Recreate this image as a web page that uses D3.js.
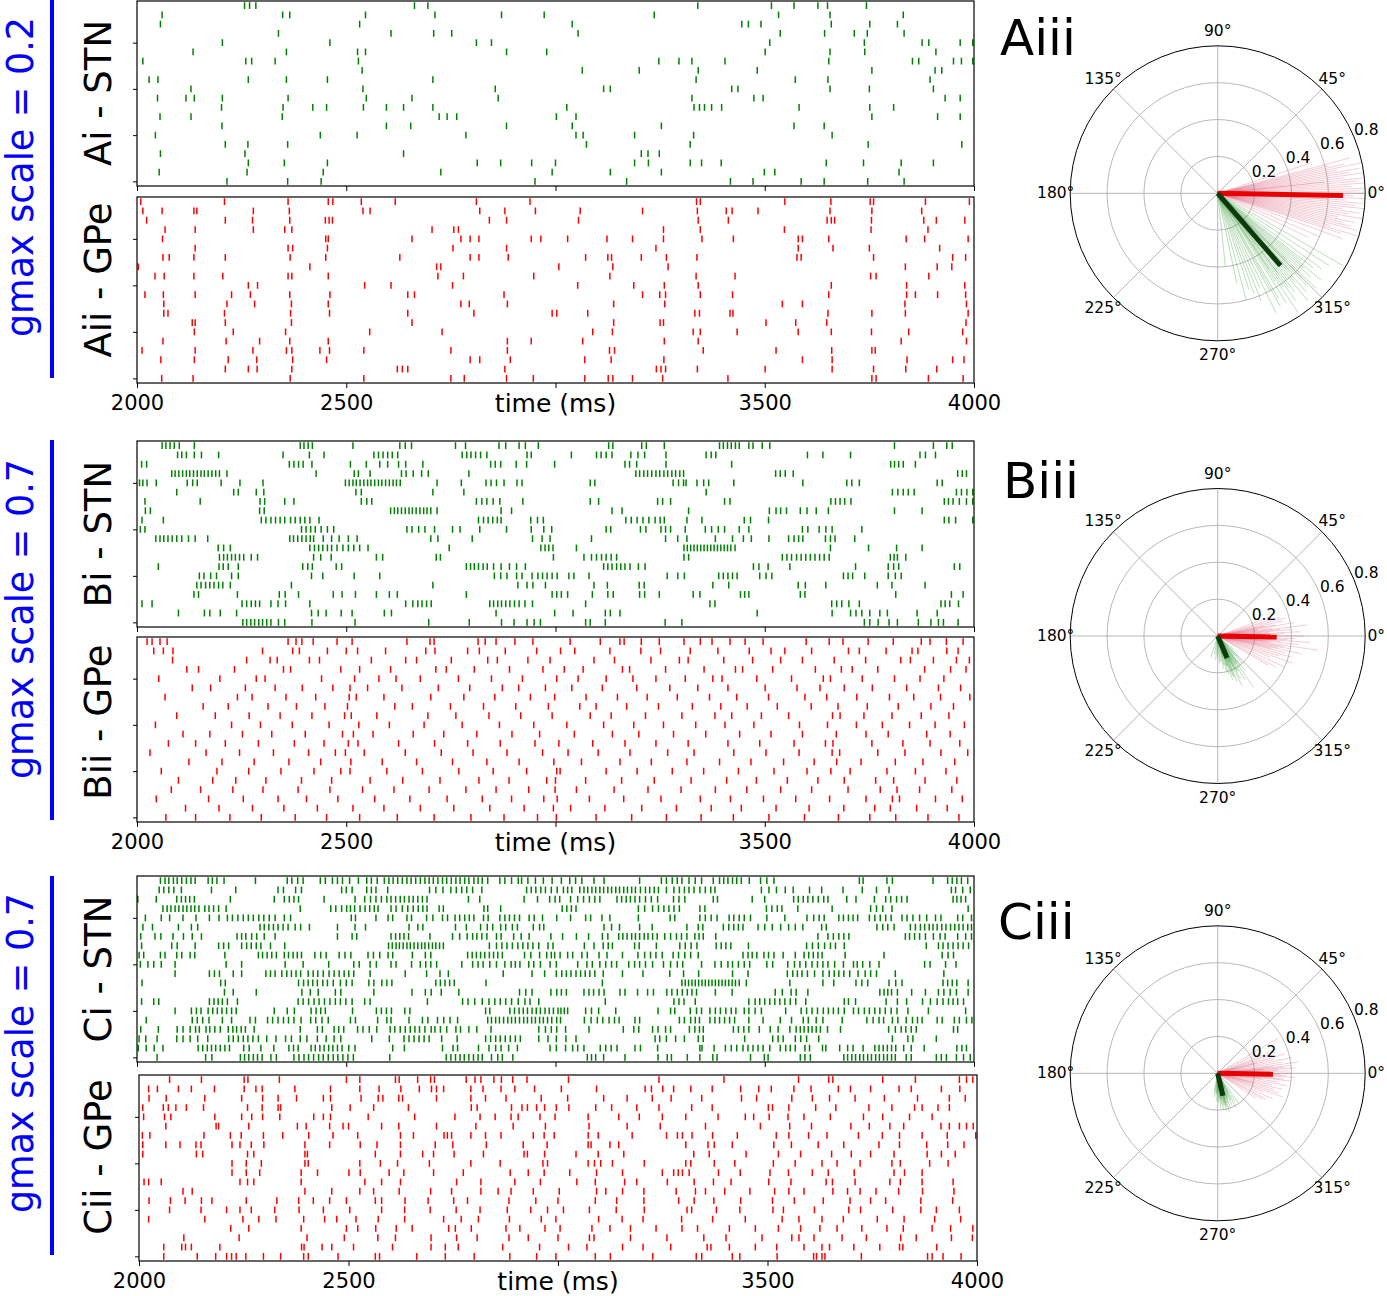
<!DOCTYPE html>
<html><head><meta charset="utf-8">
<script src="https://cdn.jsdelivr.net/npm/d3@7"></script>
<style>body{margin:0;background:#fff}svg{display:block}text{font-family:"DejaVu Sans",sans-serif}</style>
</head><body><svg id="c" width="1387" height="1296"></svg>
<script>
// ---- axis ticks ----
const timeTicks=[2000,2500,3000,3500,4000];
const timeTickLabels=["2000","2500","","3500","4000"];
const rowTicks=[0,5,10,15];
const polarRings=[0.2,0.4,0.6];
const polarRingLabels=["0.2","0.4","0.6","0.8"];
const polarAngles=[0,45,90,135,180,225,270,315];

// ---- spike times (ms); rows listed from top (neuron 19) to bottom (neuron 0) ----
const stnA=[
[2257,2269,2284,2663,2695,3340,3516,3570,3627,3650,3743],
[2060,2348,2365,2546,2712,2871,2973,3236,3533,3656,3831],
[2056,2532,3040,3445,3461,3491,3659,3751,3817],
[2338,2607,2709,2752,3054,3537,3643,3714,3745,3833],
[2204,2461,2811,2847,3512,3738,3876,3892,3967,3997],
[2134,2357,2527,2546,2883,2979,3501,3656,3739,3909],
[2014,2260,2274,2330,2529,3247,3295,3326,3405,3653,3853,3868,3951,3970,3997],
[2538,3064,3200,3341,3482,3756,3907,3923],
[2029,2050,2266,2357,2455,2707,3336,3573,3651,3895],
[2129,2540,2856,3115,3131,3421,3436,3656,3750,3903],
[2049,2117,2137,2204,2361,2548,2657,2863,3326,3474,3496,3931,3967],
[2202,2349,2420,2453,2541,2596,2637,2707,3027,3331,3344,3356,3373,3397,3582,3751,3808],
[2055,2129,2347,2722,2741,2764,3002,3049,3756,3913,3967],
[2203,2596,2654,2883,3040,3253,3570,3642],
[2044,2438,2526,2786,3049,3066,3189,3330,3661],
[2211,2265,2360,3074,3322,3747,3971],
[2056,2258,2637,3205,3221,3248],
[2266,2352,2455,2813,2869,2943,3000,3189,3222,3322,3349,3396,3647,3736,3826,3903],
[2053,2263,2445,2726,2992,3131,3253,3499,3524,3821],
[2215,2360,2440,2951,3170,3418,3472,3587,3642,3746,3833]];
const gpeA=[
[2009,2209,2361,2457,2468,2536,2617,2811,2939,3337,3346,3548,3658,3752,3760,3884,3989],
[2014,2060,2136,2143,2278,2364,2540,2557,2819,2879,2952,3059,3208,3339,3408,3422,3484,3656,3756,3875],
[2023,2211,2276,2365,2450,2459,2467,2842,2883,3055,3341,3413,3649,3659,3667,3755,3880,3910,3978],
[2067,2139,2278,2353,2370,2705,2757,2768,3258,3346,3547,3754,3890],
[2061,2451,2457,2657,2774,2796,2817,2942,2965,3029,3123,3184,3258,3350,3425,3580,3590,3653,3838,3882,3986],
[2139,2361,2372,2455,2755,2883,3240,3580,3663,3750,3918],
[2062,2077,2136,2211,2366,2451,2628,2796,2817,2887,3072,3125,3134,3205,3265,3338,3577,3587,3760,3949,3980],
[2003,2413,2716,2726,3008,3137,3269,3836,3912,3947],
[2043,2065,2136,2205,2361,2370,2457,2719,2780,2948,3130,3336,3429,3753,3766,3892],
[2266,2288,2544,2607,2754,3053,3187,3260,3341,3659,3839,3978],
[2019,2063,2139,2226,2271,2365,2461,2647,2663,2877,3208,3249,3263,3346,3423,3653,3839,3860,3913,3980],
[2064,2215,2281,2369,2457,2774,2794,2885,3139,3261,3542,3590,3835,3982],
[2064,2074,2209,2367,2460,2647,2805,2992,3003,3077,3333,3344,3417,3424,3651,3756,3836,3986],
[2132,2139,2211,2369,2657,3139,3250,3258,3503,3574,3648,3981],
[2137,2230,2355,2556,2729,3089,3136,3329,3346,3434,3580,3659,3755,3844,3973],
[2062,2213,2293,2365,2457,2885,2942,3065,3260,3341,3826,3982],
[2012,2139,2277,2357,2370,2437,2460,2542,2750,2885,3129,3141,3353,3527,3660,3756,3764],
[2057,2137,2218,2286,2372,2453,2796,2819,2892,3070,3133,3259,3590,3661,3840,3949,3976],
[2211,2266,2287,2370,2622,2634,2647,2879,3241,3252,3263,3339,3501,3661,3760,3837,3911],
[2059,2134,2366,2542,2750,2782,2883,2947,3070,3126,3137,3184,3256,3412,3756,3766,3891,3974]];
const stnB=[
[2060,2069,2079,2089,2101,2137,2390,2399,2409,2419,2516,2628,2641,2656,2761,2785,2865,2881,2913,2928,2959,3127,3137,3206,3217,3260,3392,3401,3411,3420,3430,3439,3462,3472,3494,3512,3810,3903,3935,3948],
[2097,2107,2118,2137,2154,2195,2349,2412,2447,2566,2577,2588,2599,2610,2623,2777,2788,2798,2809,2821,2836,2932,2942,3038,3098,3109,3121,3135,3180,3197,3213,3264,3360,3372,3383,3602,3639,3705,3871,3884,3908],
[2011,2023,2364,2375,2386,2397,2418,2510,2548,2580,2599,2625,2642,2683,2845,2856,2869,2906,2931,2998,3166,3177,3194,3264,3421,3801,3810,3820,3831,3860],
[2083,2091,2100,2109,2118,2126,2135,2144,2153,2161,2170,2179,2188,2197,2215,2428,2519,2529,2557,2632,2643,2660,2680,2696,2793,3192,3201,3211,3220,3230,3240,3249,3259,3268,3278,3287,3297,3306,3526,3537,3549,3568,3961,3972,3982],
[2006,2014,2024,2046,2120,2133,2144,2201,2246,2301,2498,2507,2516,2524,2533,2542,2551,2559,2568,2577,2585,2594,2603,2612,2620,2629,2717,2775,2834,2846,2859,2877,2908,2920,3083,3094,3281,3294,3306,3312,3338,3354,3366,3426,3591,3696,3708,3726,3912,3924],
[2095,2231,2242,2285,2303,2523,2536,2707,2781,3360,3805,3818,3831,3843,3857,3958,3970,3983,3997],
[2019,2151,2294,2305,2353,2375,2536,2549,2561,2811,2824,2836,2851,2867,2922,3083,3103,3244,3256,3275,3404,3417,3658,3669,3680,3691,3706,3929,3939,3950,3965,3982,3997],
[2020,2032,2293,2304,2606,2615,2623,2632,2641,2650,2658,2667,2676,2685,2693,2702,2717,2870,2895,3135,3159,3318,3511,3527,3538,3552,3585,3601,3623,3652,3810,3876],
[2012,2063,2297,2308,2320,2331,2342,2353,2367,2378,2390,2401,2413,2435,2816,2828,2839,2850,2861,2870,2941,2957,2971,3168,3181,3195,3209,3223,3238,3250,3260,3314,3350,3451,3466,3509,3929,3940,3956,3997],
[2008,2019,2393,2404,2415,2426,2440,2455,2470,2645,2657,2673,2688,2711,2754,2772,2819,2883,2942,2972,2991,3121,3132,3203,3216,3252,3263,3275,3310,3358,3373,3389,3404,3439,3462,3590,3603,3630,3646,3661,3732],
[2045,2055,2064,2074,2084,2095,2107,2123,2139,2169,2365,2374,2384,2394,2404,2414,2422,2445,2465,2483,2505,2526,2702,2719,2801,2945,2968,2987,3086,3263,3292,3314,3382,3423,3449,3468,3510,3557,3570,3581,3591,3645,3657,3668,3715],
[2194,2207,2223,2413,2424,2434,2444,2455,2465,2478,2492,2505,2518,2532,2552,2746,2965,2975,2984,2994,3050,3307,3315,3323,3331,3339,3347,3355,3363,3371,3379,3387,3395,3403,3411,3419,3429,3657,3748,3815,3876],
[2197,2207,2216,2226,2235,2245,2255,2273,2288,2422,2439,2464,2572,2587,2715,2725,2995,3068,3086,3098,3110,3121,3133,3146,3307,3318,3542,3553,3564,3576,3587,3598,3609,3620,3631,3642,3654,3800,3809,3817,3837],
[2051,2196,2206,2218,2242,2396,2408,2419,2476,2489,2787,2797,2806,2816,2827,2837,2852,2870,2890,2907,2928,3115,3125,3135,3146,3156,3166,3178,3198,3214,3473,3486,3508,3560,3717,3795,3808,3820,3953,3966],
[2149,2160,2176,2190,2226,2242,2417,2444,2519,2580,2854,2869,2884,2907,2920,2944,2958,2969,2980,2992,3004,3032,3044,3080,3267,3292,3308,3390,3401,3412,3423,3434,3488,3503,3517,3688,3699,3710,3739,3795,3812,3826],
[2143,2153,2164,2174,2184,2195,2205,2223,2369,2707,2910,2932,2946,2976,3092,3124,3200,3212,3376,3414,3580,3597,3646,3769,3804,3883],
[2136,2147,2240,2340,2354,2386,2469,2490,2522,2572,2603,2622,2787,2992,3003,3014,3029,3088,3125,3138,3201,3213,3248,3329,3345,3442,3452,3462,3585,3596,3813,3946,3974],
[2012,2036,2251,2262,2273,2283,2293,2320,2337,2355,2413,2642,2659,2671,2681,2692,2703,2843,2852,2862,2871,2881,2891,2902,2913,2927,2945,3072,3369,3381,3660,3672,3684,3701,3726,3921,3931,3942,3963],
[2099,2161,2174,2199,2238,2417,2433,2452,2488,2514,2591,2608,2858,2998,3042,3119,3131,3154,3482,3661,3705,3718,3732,3751,3775,3793,3864,3912],
[2253,2262,2272,2281,2291,2300,2310,2320,2338,2353,2418,2521,2697,2794,2871,2901,2932,2949,2964,3072,3083,3119,3262,3302,3738,3751,3771,3797,3817,3867,3897,3915,3927,3962]];
const gpeB=[
[2024,2036,2055,2072,2361,2380,2394,2421,2478,2514,2645,2700,2710,2815,2832,2858,2903,2946,3035,3107,3154,3164,3205,3248,3307,3346,3374,3417,3453,3496,3599,3654,3687,3747,3807,3874,3895,3934,3974],
[2040,2063,2086,2300,2372,2388,2455,2500,2527,2594,2690,2712,2790,2818,2880,2955,3012,3046,3130,3204,3251,3322,3388,3463,3515,3548,3612,3700,3726,3790,3852,3866,3935,3962],
[2085,2262,2318,2335,2412,2436,2560,2642,2668,2751,2838,2861,2934,2987,3092,3141,3228,3296,3317,3402,3471,3538,3590,3666,3741,3825,3848,3903,3958,3989],
[2119,2147,2233,2350,2367,2487,2532,2606,2714,2739,2806,2890,2970,3021,3066,3160,3177,3263,3355,3430,3447,3519,3621,3683,3709,3770,3882,3944,3981],
[2052,2198,2285,2306,2441,2520,2578,2619,2677,2768,2847,2921,3003,3054,3121,3185,3240,3310,3376,3398,3481,3564,3640,3657,3733,3810,3871,3928],
[2132,2176,2259,2330,2395,2468,2509,2551,2633,2720,2795,2873,2912,2976,3039,3112,3194,3273,3340,3412,3501,3577,3632,3690,3757,3839,3915,3968],
[2067,2240,2275,2356,2427,2507,2524,2590,2702,2781,2855,2940,2998,3073,3148,3219,3291,3368,3433,3509,3596,3648,3720,3798,3856,3920,3990],
[2158,2218,2313,2381,2449,2503,2616,2658,2749,2828,2905,2983,3058,3097,3170,3246,3327,3395,3458,3530,3611,3675,3745,3819,3897,3951],
[2095,2187,2268,2342,2418,2496,2512,2573,2695,2762,2841,2917,2992,3083,3133,3215,3302,3381,3421,3492,3557,3662,3680,3737,3804,3874,3940],
[2044,2226,2295,2371,2459,2530,2603,2686,2777,2866,2948,3027,3115,3187,3258,3335,3405,3474,3583,3650,3719,3781,3846,3907,3977],
[2110,2174,2252,2322,2402,2491,2517,2564,2660,2733,2812,2896,2962,3045,3136,3199,3282,3359,3440,3515,3590,3671,3742,3795,3887,3943],
[2075,2140,2211,2290,2376,2447,2505,2528,2625,2711,2790,2868,2951,3008,3089,3166,3240,3317,3412,3488,3570,3645,3663,3756,3830,3895,3966],
[2031,2165,2245,2326,2410,2474,2498,2543,2641,2727,2803,2884,2969,3030,3102,3178,3268,3331,3426,3503,3582,3661,3679,3770,3835,3921,3985],
[2124,2203,2280,2363,2439,2511,2586,2668,2754,2836,2913,2996,3062,3154,3229,3314,3392,3467,3545,3618,3672,3730,3812,3878,3954],
[2058,2191,2267,2344,2423,2487,2509,2597,2682,2769,2851,2931,3003,3011,3121,3195,3279,3354,3437,3522,3601,3658,3704,3792,3860,3933],
[2099,2181,2236,2308,2393,2465,2557,2635,2724,2817,2889,2979,3000,3072,3158,3236,3324,3409,3480,3554,3627,3690,3765,3808,3883,3959],
[2082,2152,2229,2301,2385,2461,2539,2614,2698,2786,2858,2936,2999,3050,3140,3221,3300,3382,3457,3538,3612,3699,3776,3816,3870,3947],
[2046,2171,2254,2337,2405,2480,2568,2652,2741,2825,2895,2972,3004,3081,3163,3252,3346,3418,3497,3574,3655,3742,3805,3822,3908,3972],
[2116,2196,2276,2351,2431,2516,2590,2677,2757,2843,2925,2995,3036,3118,3206,3289,3372,3444,3527,3606,3689,3763,3800,3863,3936],
[2069,2140,2222,2297,2378,2453,2532,2622,2710,2798,2877,2957,3002,3097,3182,3265,3348,3425,3510,3595,3676,3751,3813,3890,3964]];
const stnC=[
[2056,2067,2076,2087,2096,2107,2118,2129,2139,2170,2180,2191,2208,2283,2359,2370,2384,2397,2438,2450,2467,2479,2491,2508,2529,2549,2560,2574,2591,2602,2612,2623,2634,2645,2655,2666,2677,2688,2698,2708,2719,2730,2740,2751,2762,2772,2783,2793,2805,2815,2825,2838,2867,2879,2895,2911,2919,2934,2952,2971,2992,3014,3034,3048,3063,3092,3116,3201,3253,3265,3279,3291,3302,3319,3334,3349,3377,3392,3402,3412,3423,3433,3444,3463,3490,3505,3522,3726,3735,3792,3805,3902,3937,3948,3959,3970,3985],
[2053,2064,2076,2088,2106,2178,2236,2337,2350,2379,2393,2489,2500,2514,2549,2560,2571,2599,2699,2714,2731,2750,2763,2776,2788,2802,2824,2931,2942,2953,2965,2976,2990,3004,3019,3029,3039,3058,3068,3077,3087,3096,3106,3115,3125,3134,3144,3153,3163,3172,3182,3191,3203,3215,3225,3236,3246,3265,3283,3296,3308,3319,3331,3345,3358,3371,3381,3492,3510,3528,3549,3568,3607,3636,3687,3733,3767,3797,3946,3956,3973,3991],
[2002,2046,2095,2106,2116,2126,2137,2223,2328,2352,2364,2375,2386,2447,2521,2544,2558,2571,2584,2597,2607,2618,2629,2639,2650,2660,2671,2682,2693,2792,2819,2925,2957,2986,2999,3010,3036,3053,3067,3081,3094,3106,3147,3158,3169,3179,3190,3201,3215,3229,3244,3282,3295,3309,3377,3387,3470,3500,3569,3580,3592,3603,3615,3628,3641,3651,3696,3718,3762,3789,3801,3815,3827,3840,3950,3959,3969,3980],
[2062,2072,2081,2091,2100,2110,2119,2129,2138,2148,2162,2172,2183,2195,2213,2390,2463,2475,2489,2501,2510,2520,2533,2545,2556,2567,2576,2607,2619,2634,2647,2660,2672,2683,2693,2722,2732,2829,2838,2869,3016,3027,3038,3049,3198,3213,3232,3246,3259,3271,3283,3296,3345,3357,3504,3517,3530,3541,3579,3661,3753,3767,3782,3804,3986],
[2020,2058,2078,2110,2141,2173,2196,2216,2228,2241,2254,2266,2278,2291,2303,2316,2330,2352,2367,2512,2522,2571,2600,2611,2645,2656,2692,2707,2730,2742,2760,2771,2783,2794,2805,2828,2839,2867,2879,2890,2902,2914,2937,2949,2969,3003,3036,3072,3084,3111,3130,3198,3274,3285,3345,3358,3372,3386,3415,3426,3439,3451,3466,3505,3548,3601,3617,3630,3642,3677,3688,3700,3711,3722,3750,3763,3776,3789,3802,3828,3840,3854,3870,3887,3908,3921,3961,3973,3994],
[2014,2037,2099,2130,2145,2294,2304,2315,2326,2337,2349,2361,2378,2391,2412,2479,2521,2546,2650,2671,2683,2761,2787,2821,2837,2850,2869,2881,2897,2909,2947,2962,2972,3116,3134,3153,3201,3231,3314,3341,3352,3401,3414,3426,3437,3448,3484,3500,3518,3538,3557,3573,3591,3636,3647,3768,3782,3794,3809,3848,3860,3872,3882,3893,3902,3912,3923,3933,3944,3954,3964,3974,3985,3994],
[2009,2043,2057,2086,2111,2132,2154,2239,2250,2260,2274,2286,2304,2330,2479,2514,2525,2607,2618,2628,2638,2649,2700,2754,2771,2789,2802,2812,2824,2836,2859,2870,2900,2918,2937,2989,3017,3050,3079,3112,3125,3151,3161,3171,3182,3191,3201,3212,3221,3232,3243,3261,3275,3289,3301,3314,3333,3343,3353,3383,3627,3651,3664,3677,3689,3701,3836,3846,3858,3870,3884,3903,3919,3931,3961,3980,3994],
[2011,2083,2096,2139,2195,2207,2219,2250,2262,2273,2285,2296,2319,2353,2601,2610,2619,2627,2636,2645,2653,2662,2671,2680,2688,2697,2706,2714,2723,2732,2842,2859,2872,2884,2897,2910,2922,2934,2946,2960,2982,2994,3069,3092,3114,3126,3136,3189,3200,3241,3297,3310,3324,3338,3384,3396,3407,3419,3461,3600,3614,3628,3643,3657,3669,3690,3886,3915,3926,3938,3950,3962,3974,3987],
[2005,2016,2056,2067,2095,2107,2127,2138,2210,2290,2300,2311,2322,2333,2352,2362,2373,2383,2393,2425,2439,2452,2483,2497,2511,2552,2565,2580,2600,2611,2658,2689,2702,2790,2801,2811,2821,2831,2842,2852,2862,2873,2926,2941,2962,2979,2990,2998,3011,3029,3041,3063,3076,3104,3123,3160,3197,3213,3227,3240,3255,3281,3294,3309,3323,3341,3448,3460,3470,3481,3498,3509,3522,3544,3573,3594,3605,3616,3627,3637,3692,3785,3924,3938,3951],
[2008,2026,2040,2058,2091,2213,2250,2354,2397,2458,2518,2531,2557,2572,2607,2619,2656,2677,2690,2702,2716,2776,2802,2815,2827,2843,2859,2879,2894,2904,2915,2936,2948,2964,2987,3002,3053,3075,3088,3106,3120,3134,3146,3175,3189,3201,3215,3232,3258,3275,3291,3304,3349,3381,3396,3412,3423,3437,3451,3464,3505,3519,3555,3571,3584,3598,3613,3626,3639,3651,3667,3688,3712,3721,3734,3751,3773,3882,3895,3932,3957],
[2091,2173,2185,2197,2230,2250,2308,2319,2330,2346,2358,2369,2380,2391,2409,2421,2432,2445,2459,2471,2483,2495,2506,2518,2557,2641,2692,2724,2744,2875,2944,2974,3002,3015,3026,3037,3049,3060,3071,3082,3094,3114,3160,3209,3273,3306,3342,3423,3460,3554,3567,3578,3589,3602,3619,3639,3654,3666,3677,3689,3703,3723,3740,3753,3767,3812,3928],
[2012,2200,2211,2386,2398,2409,2420,2431,2444,2455,2469,2486,2500,2514,2554,2566,2585,2597,2609,2714,2725,2736,2747,2758,2834,3112,3302,3310,3318,3326,3334,3342,3350,3358,3366,3374,3382,3390,3398,3406,3414,3422,3430,3439,3456,3560,3639,3665,3718,3732,3746,3797,3813,3828,3926,3937,3948,3959,3986],
[2209,2230,2285,2394,2414,2433,2474,2487,2566,2657,2689,2703,2727,2769,2914,2929,2944,2989,3003,3014,3026,3068,3080,3091,3104,3116,3154,3166,3196,3220,3234,3266,3278,3291,3303,3315,3326,3337,3382,3422,3525,3542,3563,3575,3603,3775,3785,3794,3803,3817,3851,3884,3915,3928,3943,3958,3986],
[2011,2040,2052,2173,2184,2194,2204,2216,2240,2385,2397,2410,2423,2435,2448,2461,2474,2486,2499,2514,2544,2557,2694,2778,2791,2807,2825,2841,2855,2868,2881,2895,2911,2927,2939,2960,3119,3283,3295,3307,3334,3462,3477,3488,3500,3512,3524,3536,3548,3561,3574,3598,3690,3700,3717,3790,3817,3839,3877,3896,3912,3926,3939,3950,3961,3975],
[2091,2130,2142,2153,2170,2181,2192,2203,2214,2226,2237,2328,2359,2376,2416,2428,2439,2450,2515,2572,2584,2596,2608,2640,2652,2833,2843,2891,2902,2913,2923,2933,2944,2954,2964,2975,2985,2995,3006,3013,3021,3029,3072,3086,3103,3144,3245,3275,3285,3322,3337,3349,3369,3382,3394,3407,3420,3431,3451,3462,3477,3492,3550,3587,3600,3613,3626,3640,3652,3664,3676,3690,3712,3724,3738,3750,3763,3775,3788,3802,3816,3842,3891,3980],
[2022,2132,2144,2157,2172,2204,2226,2270,2283,2312,2324,2337,2350,2362,2375,2392,2415,2427,2442,2457,2510,2522,2575,2597,2607,2650,2682,2695,2718,2733,2748,2766,2838,2847,2857,2866,2876,2886,2895,2904,2914,2924,2933,2943,2952,2962,2971,2981,2991,3003,3012,3069,3085,3100,3113,3128,3141,3152,3190,3201,3296,3308,3323,3334,3344,3369,3381,3392,3404,3416,3428,3462,3496,3537,3564,3592,3604,3623,3639,3685,3744,3759,3773,3784,3805,3818,3838,3853,3865,3876,3912,3924,3953,3965,3982,3995],
[2009,2051,2096,2110,2127,2140,2149,2165,2174,2186,2199,2218,2229,2238,2249,2259,2280,2390,2431,2443,2471,2482,2494,2527,2540,2555,2573,2605,2616,2629,2641,2653,2664,2675,2688,2703,2712,2725,2740,2762,2773,2793,2812,2846,2960,2976,2990,3003,3024,3080,3162,3187,3199,3232,3245,3263,3275,3320,3333,3344,3353,3425,3437,3450,3462,3487,3513,3532,3560,3575,3585,3594,3604,3613,3623,3633,3650,3681,3796,3812,3826,3837,3850,3862,3951,3961],
[2005,2021,2048,2095,2110,2127,2145,2169,2219,2230,2242,2254,2265,2277,2290,2310,2332,2355,2369,2390,2406,2431,2452,2471,2487,2561,2603,2638,2650,2662,2674,2686,2698,2728,2765,2833,2845,2857,2868,2880,2892,2904,2916,2960,2982,3002,3025,3049,3238,3249,3265,3287,3308,3341,3353,3452,3519,3532,3544,3573,3586,3600,3629,3805,3842,3854,3910],
[2003,2022,2041,2062,2146,2157,2168,2178,2188,2199,2210,2221,2255,2268,2296,2327,2363,2374,2385,2416,2426,2437,2447,2458,2468,2479,2490,2506,2521,2611,2639,2730,2755,2766,2816,2841,2857,2870,2888,2909,2987,3002,3024,3041,3053,3068,3107,3120,3133,3147,3190,3203,3244,3345,3350,3379,3406,3420,3433,3448,3460,3472,3484,3496,3512,3537,3550,3561,3573,3596,3607,3638,3646,3679,3698,3711,3735,3763,3773,3783,3793,3803,3813,3832,3850,3881,3959,3971,3982],
[2048,2164,2179,2247,2257,2267,2278,2288,2299,2320,2333,2375,2387,2399,2410,2422,2434,2445,2457,2469,2480,2492,2504,2517,2604,2739,2750,2761,2772,2782,2793,2804,2815,2825,2847,2862,2873,2898,3076,3086,3096,3115,3166,3245,3267,3277,3315,3345,3376,3386,3466,3499,3508,3585,3596,3609,3689,3698,3708,3717,3727,3736,3746,3755,3765,3774,3784,3793,3803,3812,3838,3850,3910,3922,3934,3958,3975,3991]];
const gpeC=[
[2073,2149,2251,2260,2335,2495,2527,2612,2621,2665,2696,2705,2781,2802,2816,2847,2865,2892,2926,3025,3241,3396,3574,3646,3656,3775,3853,3958,3975,3990],
[2023,2044,2094,2125,2180,2251,2279,2294,2372,2457,2527,2573,2625,2669,2698,2710,2727,2792,2821,2864,2897,2944,3008,3092,3208,3223,3250,3276,3317,3368,3436,3479,3509,3563,3604,3669,3698,3746,3814,3843,3915,3959],
[2024,2065,2157,2245,2295,2332,2376,2440,2457,2530,2571,2582,2620,2629,2710,2792,2827,2876,2960,3023,3109,3165,3225,3270,3343,3438,3474,3558,3607,3648,3709,3779,3858,3934,3972],
[2009,2058,2070,2088,2113,2154,2259,2294,2332,2338,2460,2504,2560,2643,2793,2807,2889,2914,2927,2949,2968,2996,3026,3090,3128,3188,3241,3319,3368,3502,3512,3551,3615,3663,3742,3797,3851,3869,3907,3934],
[2011,2061,2076,2181,2245,2269,2295,2336,2417,2440,2457,2547,2658,2754,2814,2850,2888,2905,2957,2993,3072,3145,3194,3249,3305,3382,3447,3467,3504,3549,3587,3650,3729,3775,3839,3893],
[2064,2184,2190,2262,2378,2399,2455,2487,2500,2579,2620,2710,2804,2893,2970,3074,3165,3244,3352,3483,3553,3605,3699,3743,3792,3825,3914,3934,3958,3975,3991],
[2008,2026,2155,2218,2244,2297,2343,2405,2463,2522,2624,2655,2728,2736,2746,2792,2827,2864,2941,2967,2991,3072,3096,3177,3259,3285,3297,3320,3369,3428,3521,3551,3598,3642,3717,3774,3815,3869,3929,3997],
[2009,2064,2098,2136,2148,2222,2241,2268,2298,2396,2455,2528,2568,2624,2707,2749,2829,2917,2974,3072,3079,3124,3145,3305,3358,3373,3416,3515,3557,3621,3682,3766,3815,3880,3930,3969],
[2009,2137,2152,2259,2274,2396,2402,2564,2624,2677,2703,2752,2822,2919,2927,2968,3043,3096,3157,3324,3361,3449,3526,3579,3653,3700,3746,3802,3881,3915,3948],
[2222,2256,2292,2396,2404,2527,2576,2617,2693,2792,2862,2964,2975,3072,3087,3102,3130,3206,3305,3317,3373,3422,3514,3566,3630,3666,3721,3797,3817,3887,3931],
[2222,2256,2288,2387,2426,2501,2528,2597,2632,2703,2774,2886,2929,2967,3028,3092,3154,3249,3276,3287,3297,3313,3383,3435,3506,3550,3607,3645,3707,3802,3827,3869],
[2012,2023,2053,2241,2259,2274,2387,2539,2579,2624,2758,2816,2897,2958,3045,3089,3159,3188,3261,3325,3371,3413,3503,3556,3640,3655,3709,3792,3817,3869,3943],
[2105,2127,2396,2460,2527,2560,2621,2696,2746,2816,2857,2888,2941,3003,3092,3114,3154,3205,3282,3328,3352,3398,3458,3517,3551,3587,3656,3691,3721,3759,3813,3870,3945],
[2024,2075,2110,2149,2174,2256,2329,2381,2416,2455,2495,2564,2579,2635,2690,2751,2784,2883,2947,3000,3089,3140,3205,3288,3325,3372,3436,3512,3564,3633,3697,3746,3782,3866,3942],
[2073,2148,2209,2241,2268,2324,2382,2440,2503,2579,2634,2695,2757,2814,2879,2935,2975,3013,3075,3139,3206,3308,3319,3378,3434,3513,3538,3612,3694,3722,3799,3866,3903,3958],
[2023,2157,2248,2286,2327,2393,2443,2472,2518,2571,2634,2727,2769,2810,2884,2960,2995,3097,3153,3203,3295,3369,3447,3535,3575,3630,3681,3762,3826,3899,3961],
[2219,2262,2387,2495,2522,2565,2614,2652,2739,2755,2793,2876,2909,2969,3005,3081,3124,3173,3234,3296,3333,3409,3471,3526,3579,3625,3666,3725,3785,3824,3893,3937,3990],
[2107,2239,2401,2490,2570,2612,2697,2758,2807,2883,2929,3000,3075,3086,3173,3260,3348,3401,3487,3558,3575,3611,3678,3736,3818,3855,3939,3989],
[2059,2102,2111,2125,2193,2388,2394,2437,2460,2512,2605,2697,2731,2762,2868,2956,3025,3069,3154,3203,3269,3356,3365,3409,3471,3522,3587,3630,3648,3706,3768,3815,3823,3904],
[2059,2139,2183,2209,2221,2232,2255,2297,2338,2393,2404,2475,2564,2574,2663,2731,2800,2885,2949,2995,3089,3125,3226,3330,3343,3416,3434,3523,3610,3617,3630,3637,3724,3882,3893,3919,3962]];

// ---- phase plots: per-neuron angle (deg) and vector length ----
const gpeAngA=[18,15,13,12,11,10,9,8,7,6,5,4,3,2,1,0,-1,-2,-3,-4,-5,-6,-7,-8,-9,-10,-11,-12,-13,-14,-15,-16,-17,-18,-20,-23,-26,14,6,-3];
const gpeLenA=[0.52,0.74,0.7,0.8,0.66,0.78,0.72,0.8,0.69,0.8,0.76,0.8,0.73,0.8,0.77,0.8,0.74,0.8,0.7,0.79,0.75,0.8,0.68,0.78,0.72,0.8,0.66,0.76,0.7,0.74,0.78,0.64,0.8,0.7,0.72,0.6,0.55,0.62,0.58,0.6];
const stnAngA=[-30,-33,-36,-38,-40,-41,-42,-43,-44,-45,-46,-47,-48,-49,-50,-51,-52,-53,-54,-55,-56,-57,-58,-60,-62,-64,-66,-68,-70,-72,-75,-78,-84,-44,-47,-50,-53,-39,-61,-56];
const stnLenA=[0.78,0.72,0.7,0.66,0.73,0.62,0.68,0.6,0.74,0.65,0.7,0.58,0.72,0.64,0.76,0.6,0.68,0.55,0.72,0.62,0.78,0.57,0.7,0.66,0.6,0.72,0.56,0.63,0.58,0.55,0.6,0.5,0.4,0.52,0.6,0.48,0.64,0.58,0.7,0.5];
const gpeAngB=[20,17,15,13,11,10,8,7,6,5,4,3,2,1,0,-1,-2,-3,-4,-5,-6,-7,-8,-9,-10,-11,-12,-14,-16,-18,-20,-22,-25,-28,-30,12,3,-6,-13,9];
const gpeLenB=[0.3,0.35,0.38,0.36,0.32,0.42,0.3,0.49,0.34,0.4,0.28,0.45,0.36,0.33,0.47,0.3,0.42,0.38,0.5,0.34,0.44,0.29,0.55,0.36,0.4,0.33,0.46,0.38,0.42,0.35,0.43,0.3,0.4,0.36,0.32,0.26,0.24,0.27,0.3,0.22];
const stnAngB=[-40,-45,-48,-50,-52,-54,-55,-56,-58,-60,-61,-62,-63,-64,-65,-66,-67,-68,-69,-70,-71,-72,-74,-76,-78,-80,-83,-86,-90,-95,-100,-108,-58,-63,-68,-73,-53,-66,-77,-60];
const stnLenB=[0.12,0.16,0.2,0.14,0.24,0.18,0.34,0.2,0.28,0.15,0.22,0.26,0.18,0.3,0.16,0.21,0.27,0.14,0.23,0.19,0.25,0.17,0.22,0.2,0.16,0.18,0.14,0.15,0.12,0.13,0.1,0.12,0.18,0.2,0.24,0.17,0.2,0.1,0.12,0.22];
const gpeAngC=[30,26,22,20,18,16,14,12,10,8,7,6,5,4,3,2,1,0,-1,-2,-3,-4,-5,-6,-8,-10,-12,-14,-16,-18,-20,-22,-25,-28,-30,-33,15,5,-7,-15];
const gpeLenC=[0.38,0.26,0.3,0.34,0.28,0.38,0.32,0.41,0.35,0.44,0.3,0.4,0.36,0.42,0.33,0.39,0.3,0.4,0.34,0.37,0.42,0.31,0.36,0.4,0.33,0.38,0.3,0.36,0.32,0.35,0.38,0.27,0.33,0.3,0.28,0.25,0.22,0.25,0.24,0.2];
const stnAngC=[-55,-59,-62,-64,-66,-68,-70,-71,-72,-73,-74,-75,-76,-77,-78,-79,-80,-81,-82,-83,-84,-85,-86,-88,-90,-92,-95,-98,-101,-66,-72,-78,-84,-69,-75,-81,-87,-62,-93,-76];
const stnLenC=[0.2,0.18,0.21,0.16,0.19,0.14,0.2,0.17,0.12,0.22,0.15,0.19,0.13,0.21,0.16,0.18,0.11,0.2,0.15,0.17,0.13,0.19,0.14,0.16,0.12,0.15,0.11,0.13,0.1,0.09,0.1,0.12,0.08,0.15,0.17,0.14,0.1,0.12,0.11,0.18];
const meanGpeAng=[-1,-1,-1], meanGpeLen=[0.68,0.32,0.30];
const meanStnAng=[-49,-67,-77], meanStnLen=[0.52,0.13,0.125];

const groupLabels=["gmax scale = 0.2","gmax scale = 0.7","gmax scale = 0.7"];
const polarTitles=["Aiii","Biii","Ciii"];

// ---- drawing ----
const svg=d3.select("#c");
const FONT='"DejaVu Sans",sans-serif';
const panels=[
 {name:"Ai - STN",rows:stnA,color:"#008000",x0:137,x1:974,y0:1,y1:186,lab:false,ly:93},
 {name:"Aii - GPe",rows:gpeA,color:"#ff0000",x0:137,x1:974,y0:197,y1:383,lab:true,ly:280},
 {name:"Bi - STN",rows:stnB,color:"#008000",x0:137,x1:974,y0:441,y1:627,lab:false,ly:534},
 {name:"Bii - GPe",rows:gpeB,color:"#ff0000",x0:137,x1:974,y0:637,y1:822,lab:true,ly:722},
 {name:"Ci - STN",rows:stnC,color:"#008000",x0:137,x1:974,y0:876,y1:1062,lab:false,ly:969},
 {name:"Cii - GPe",rows:gpeC,color:"#ff0000",x0:139,x1:977,y0:1075,y1:1261,lab:true,ly:1157}
];
panels.forEach(p=>{
  const x=d3.scaleLinear().domain([2000,4000]).range([p.x0,p.x1]);
  const y=d3.scaleLinear().domain([-0.5,19.5]).range([p.y1,p.y0]);
  const g=svg.append("g");
  p.rows.forEach((times,i)=>{
    const row=19-i;
    g.selectAll(null).data(times).join("line")
      .attr("x1",d=>x(d)).attr("x2",d=>x(d))
      .attr("y1",y(row)-3.4).attr("y2",y(row)+3.4)
      .attr("stroke",p.color).attr("stroke-width",1.5);
  });
  svg.append("rect").attr("x",p.x0).attr("y",p.y0).attr("width",p.x1-p.x0).attr("height",p.y1-p.y0)
    .attr("fill","none").attr("stroke","#000").attr("stroke-width",1.2);
  const gx=svg.append("g").attr("transform",`translate(0,${p.y1})`)
    .call(d3.axisBottom(x).tickValues(timeTicks).tickSize(5).tickPadding(7)
      .tickFormat((d,i)=>p.lab?timeTickLabels[i]:""));
  gx.select(".domain").remove();
  gx.attr("font-size",21).attr("font-family",FONT);
  const gy=svg.append("g").attr("transform",`translate(${p.x0},0)`)
    .call(d3.axisLeft(y).tickValues(rowTicks).tickSize(4).tickFormat(""));
  gy.select(".domain").remove();
  if(p.lab){
    svg.append("text").attr("x",x(3000)).attr("y",p.y1+29).attr("text-anchor","middle")
      .attr("font-size",25).attr("font-family",FONT).text("time (ms)");
  }
  svg.append("text").attr("transform",`translate(111,${p.ly}) rotate(-90)`)
    .attr("text-anchor","middle").attr("font-size",37).attr("font-family",FONT).text(p.name);
});
// group labels
const grp=[{y0:0,y1:378,ty:177},{y0:440,y1:820,ty:619},{y0:876,y1:1255,ty:1053}];
grp.forEach((d,i)=>{
  svg.append("line").attr("x1",52).attr("x2",52).attr("y1",d.y0).attr("y2",d.y1)
    .attr("stroke","#0000ff").attr("stroke-width",4);
  svg.append("text").attr("transform",`translate(33,${d.ty}) rotate(-90)`)
    .attr("text-anchor","middle").attr("fill","#0000ff").attr("font-size",36.5)
    .attr("font-family",FONT).text(groupLabels[i]);
});
// polar plots
const polars=[
 {cx:1217.7,cy:193.3,tx:1000,ty:55,gA:gpeAngA,gL:gpeLenA,sA:stnAngA,sL:stnLenA},
 {cx:1217.7,cy:636,tx:1003,ty:498,gA:gpeAngB,gL:gpeLenB,sA:stnAngB,sL:stnLenB},
 {cx:1217.7,cy:1073.3,tx:998,ty:939,gA:gpeAngC,gL:gpeLenC,sA:stnAngC,sL:stnLenC}
];
const rS=d3.scaleLinear().domain([0,0.8]).range([0,147.5]);
const rad=a=>a*Math.PI/180;
polars.forEach((p,k)=>{
  const g=svg.append("g").attr("transform",`translate(${p.cx},${p.cy})`);
  g.selectAll(null).data(polarRings).join("circle").attr("r",d=>rS(d))
    .attr("fill","none").attr("stroke","#b0b0b0").attr("stroke-width",0.9);
  g.selectAll(null).data(polarAngles).join("line")
    .attr("x1",0).attr("y1",0).attr("x2",d=>rS(0.8)*Math.cos(rad(d))).attr("y2",d=>-rS(0.8)*Math.sin(rad(d)))
    .attr("stroke","#b0b0b0").attr("stroke-width",0.9);
  g.selectAll(null).data(polarRingLabels).join("text")
    .attr("x",d=>rS(+d)*Math.cos(rad(22.5))).attr("y",d=>-rS(+d)*Math.sin(rad(22.5))-2)
    .attr("font-size",15.5).attr("font-family",FONT).text(d=>d);
  g.append("g").selectAll("line").data(p.gA).join("line")
    .attr("x1",0).attr("y1",0)
    .attr("x2",(d,i)=>rS(p.gL[i])*Math.cos(rad(d))).attr("y2",(d,i)=>-rS(p.gL[i])*Math.sin(rad(d)))
    .attr("stroke","#d0204a").attr("stroke-opacity",0.25).attr("stroke-width",0.9);
  g.append("g").selectAll("line").data(p.sA).join("line")
    .attr("x1",0).attr("y1",0)
    .attr("x2",(d,i)=>rS(p.sL[i])*Math.cos(rad(d))).attr("y2",(d,i)=>-rS(p.sL[i])*Math.sin(rad(d)))
    .attr("stroke","#1a8a1a").attr("stroke-opacity",0.33).attr("stroke-width",0.9);
  g.append("line").attr("x1",0).attr("y1",0)
    .attr("x2",rS(meanGpeLen[k])*Math.cos(rad(meanGpeAng[k]))).attr("y2",-rS(meanGpeLen[k])*Math.sin(rad(meanGpeAng[k])))
    .attr("stroke","#e80000").attr("stroke-width",5);
  g.append("line").attr("x1",0).attr("y1",0)
    .attr("x2",rS(meanStnLen[k])*Math.cos(rad(meanStnAng[k]))).attr("y2",-rS(meanStnLen[k])*Math.sin(rad(meanStnAng[k])))
    .attr("stroke","#0b3a0b").attr("stroke-width",5);
  g.append("circle").attr("r",rS(0.8)).attr("fill","none").attr("stroke","#000").attr("stroke-width",1);
  g.selectAll(null).data(polarAngles).join("text")
    .attr("x",d=>(d===0?158.5:162)*Math.cos(rad(d))).attr("y",d=>-162*Math.sin(rad(d)))
    .attr("text-anchor","middle").attr("dominant-baseline","central")
    .attr("font-size",15.5).attr("font-family",FONT).text(d=>d+"°");
  svg.append("text").attr("x",p.tx).attr("y",p.ty).attr("font-size",50).attr("font-family",FONT).text(polarTitles[k]);
});
</script></body></html>
